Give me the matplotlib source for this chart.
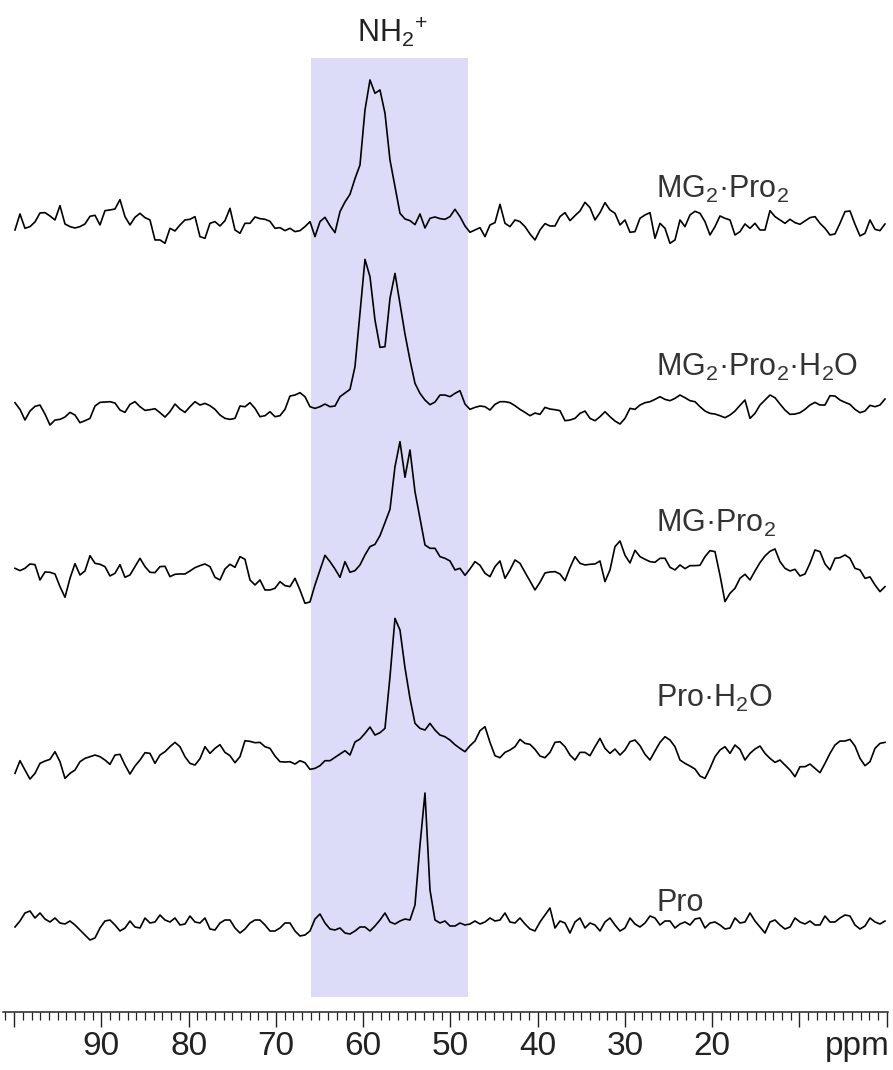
import numpy as np
import matplotlib
matplotlib.use("Agg")
import matplotlib.pyplot as plt
from matplotlib.ticker import FixedLocator

plt.rcParams['font.family'] = ['Liberation Sans', 'DejaVu Sans']
plt.rcParams['mathtext.fontset'] = 'custom'
plt.rcParams['mathtext.rm'] = 'Liberation Sans'
plt.rcParams['mathtext.it'] = 'Liberation Sans:italic'
plt.rcParams['mathtext.bf'] = 'Liberation Sans:bold'
plt.rcParams['mathtext.default'] = 'regular'

# ---------------- data (intensity in arbitrary units, chemical shift in ppm) ----------------
ppm_start_left = 99.897
ppm_start_right = 50.619
ppm_step = 0.573

labels = [r'MG$_2$·Pro$_2$', r'MG$_2$·Pro$_2$·H$_2$O', r'MG·Pro$_2$', r'Pro·H$_2$O', 'Pro']
region_label = r'NH$_2{}^{+}$'
region_ppm = (66.0, 48.0)
tick_values = [90, 80, 70, 60, 50, 40, 30, 20]
axis_unit = 'ppm'

t1_left = [-20, 28, -15, -10, 4, 31, 32, 22, 10, 53,
           -2, -10, -14, -10, -2, 21, 24, -5, 38, 40,
           43, 71, 20, -5, 18, 30, 17, 10, -50, -50,
           -60, -15, -23, -5, 10, 12, 20, -40, -45, 0,
           5, -8, 8, 45, -20, -30, 0, 0, 19, 14,
           12, 6, -15, -13, -22, -15, -25, -22, -10, 5,
           -40, 5, 18, -7, -28, 35, 64, 87, 134, 175,
           340, 430, 390, 400, 330, 190, 110, 30, 13, 8,
           -4, 28, -14, 15, 19, 14]
t1_right = [12, 20, 42, 20, -8, -27, -20, -13, -40, -5,
            2, 57, 0, -10, 10, 5, -10, -32, -50, -20,
            -1, -8, -8, 20, 32, 8, 23, 37, 63, 47,
            10, 32, 62, 40, 30, -5, 10, -27, -25, 15,
            25, 32, -45, 0, -15, -60, -50, 10, -10, 25,
            36, 30, 5, -35, -10, 22, 15, 10, -35, -25,
            -2, -15, 0, -20, -20, 38, 20, 10, 0, 12,
            2, -3, 7, 17, 20, 0, -15, -35, -32, 0,
            35, 37, -3, -38, -30, 10, -18, -22, -2]

t2_left = [12, -8, -40, -13, 1, 5, -22, -55, -40, -38,
           -31, -17, -25, -48, -42, -35, 2, 13, 14, 15,
           11, -10, -17, 7, 15, 0, -11, -9, -6, -18,
           -31, -15, 8, -7, -17, 0, 15, 5, 10, 3,
           -8, -25, -35, -38, -35, 2, 0, 12, -5, -30,
           -27, -15, -30, -27, -8, 32, 35, 42, 30, 0,
           -5, 0, 8, 0, 2, 30, 41, 52, 120, 280,
           442, 390, 260, 178, 180, 325, 400, 310, 218, 140,
           70, 40, 20, 6, 14, 35]
t2_right = [35, 30, 40, 48, 8, -8, -2, 2, 0, -10,
            7, 15, 15, 12, 3, -8, -17, -27, -19, -23,
            -2, -7, -9, -12, -42, -40, -35, -20, -13, -35,
            -42, -30, -15, -30, -43, -52, -35, -5, -8, 5,
            12, 15, 22, 30, 22, 18, 25, 35, 27, 18,
            15, 0, -13, -20, -22, -27, -33, -25, -13, 4,
            20, -35, -20, 5, 20, 35, 27, 8, -10, -23,
            -22, -18, -8, 5, 13, 5, 5, 33, 32, 20,
            13, 7, -8, -18, -13, 4, 0, 5, 23]

t3_left = [0, -7, 0, 13, 11, -35, -11, -12, -17, -55,
           -87, -30, 14, -20, -8, 38, 15, 12, 5, -23,
           -15, 11, -27, -20, 5, 30, 5, -12, -13, 5,
           6, -25, -18, -17, -17, -8, 2, 8, 13, 5,
           -27, -35, -2, 12, 3, 35, 27, -35, -50, -35,
           -65, -65, -60, -40, -52, -55, -30, -65, -105, -101,
           -50, -5, 39, 20, -2, -27, 20, -12, -7, 10,
           40, 65, 72, 98, 137, 177, 305, 380, 273, 355,
           230, 150, 70, 60, 60, 35]
t3_right = [30, 22, -5, 0, -21, -2, 20, 9, -15, -25,
            5, 22, -30, -5, 25, 15, -12, -38, -65, -42,
            -14, -11, -10, -17, -37, 2, 35, 15, 10, 12,
            13, 22, -40, -5, 65, 82, 39, 16, 54, 35,
            27, 20, 18, 30, 30, 3, -5, 10, -1, 8,
            8, 9, 35, 53, 50, -21, -100, -75, -60, -30,
            -18, -35, -8, 17, 37, 51, 58, 20, 0, -8,
            -3, -23, -17, 15, 55, 50, 13, -5, 30, 32,
            40, 30, 0, -5, -30, -26, -50, -70, -55]

t4_left = [-35, 3, -25, -52, -35, -5, 2, 7, 30, 0,
           -50, -35, -25, 0, 10, 15, 20, 15, 5, -8,
           20, 22, -10, -37, -13, 5, 27, 25, -5, 20,
           30, 45, 58, 45, 15, -5, -10, 9, 45, 25,
           40, 51, 28, 18, -3, 15, 63, 61, 57, 58,
           45, 40, 17, 0, -1, 0, -7, 3, -3, -23,
           -20, -12, 3, 3, 13, 23, 33, 20, 59, 68,
           85, 104, 80, 87, 100, 255, 430, 395, 282, 190,
           115, 100, 95, 115, 95, 80]
t4_right = [75, 65, 51, 40, 30, 48, 62, 93, 105, 58,
            18, 12, 28, 35, 45, 67, 55, 52, 37, 17,
            12, 28, 58, 60, 45, 20, 5, 28, 28, 18,
            45, 70, 40, 25, 38, 20, 35, 60, 65, 48,
            22, 5, 32, 58, 75, 65, 45, 5, -5, -13,
            -22, -43, -50, -20, 15, 35, 45, 25, 50, 37,
            5, 25, 38, 47, 25, 10, -2, 5, -10, -25,
            -45, -15, -15, -7, -20, -33, -5, 25, 50, 62,
            62, 67, 47, 10, -12, 0, 40, 55, 58]

t5_all = [-6, 12, 36, 42, 21, 36, 18, 9, 21, 6,
          3, 12, 0, -15, -30, -45, -39, -9, 12, 15,
          0, -18, -9, 12, -6, -9, 21, 6, 9, 30,
          15, 9, 21, 0, 3, 27, 9, 6, 21, -12,
          -15, 6, 15, 15, -9, -24, -12, 6, 15, 15,
          0, -18, -18, -9, 6, 6, -18, -33, -30, -18,
          18, 33, 6, -12, -15, -9, -24, -27, -18, -6,
          -6, -18, -3, 15, 36, 9, 3, 12, 18, 15,
          60, 240, 396, 105, 15, 6, 12, -3, -3, 6,
          0, 3, 12, 3, 9, 21, 12, 15, 36, 9,
          6, 21, 3, -12, -18, 9, 30, 51, -9, 12,
          6, -24, 9, 21, -9, 6, 0, -18, 9, 21,
          0, -18, -9, 21, 3, -6, 6, 27, 21, 0,
          12, 12, -9, 3, 9, 0, 18, 21, -9, 6,
          9, 0, -12, -9, 21, 6, 9, 36, 12, -6,
          -24, 9, 15, 0, -12, -6, 21, 9, 3, 12,
          0, 0, 27, 9, 9, 21, 30, 27, 0, -12,
          -3, 21, 9, 3, 12]

# ---------------- layout / style ----------------
FIG_W, FIG_H = 893, 1070
AXIS_Y = 1012                 # pixel row of the axis line
baselines = [223.3, 406.7, 568.3, 761.7, 925.0]   # pixel row of each trace's zero level
label_rows = [198.3, 376.0, 531.7, 706.7, 911.0]
label_ppm = 26.4
region_label_ppm = 56.6
scale = 1.0 / 3.0             # intensity units -> pixels
axis_font = ['Liberation Sans Narrow', 'Liberation Sans', 'DejaVu Sans']

fig = plt.figure(figsize=(FIG_W / 100, FIG_H / 100), dpi=100)
ax = fig.add_axes([3 / FIG_W, (FIG_H - AXIS_Y) / FIG_H, 885 / FIG_W, AXIS_Y / FIG_H])
ax.set_xlim(101.27, -0.15)
ax.set_ylim(0, AXIS_Y)

# highlighted region
ax.axvspan(region_ppm[0], region_ppm[1], ymin=(AXIS_Y - 997) / AXIS_Y,
           ymax=(AXIS_Y - 58) / AXIS_Y, color='#dddcf8', lw=0, zorder=0)
ax.text(region_label_ppm, AXIS_Y - 41.7, region_label, fontsize=22,
        color='#222222', ha='center', va='baseline')

segments = [(t1_left, t1_right), (t2_left, t2_right), (t3_left, t3_right),
            (t4_left, t4_right)]
for (left, right), base in zip(segments, baselines[:4]):
    xl = ppm_start_left - ppm_step * np.arange(len(left))
    xr = ppm_start_right - ppm_step * np.arange(len(right))
    x = np.concatenate([xl, xr])
    y = np.concatenate([left, right]).astype(float)
    ax.plot(x, (AXIS_Y - base) + y * scale, color='#000000', lw=1.2,
            solid_joinstyle='round', zorder=3)

x5 = ppm_start_left - ppm_step * np.arange(len(t5_all))
ax.plot(x5, (AXIS_Y - baselines[4]) + np.asarray(t5_all, float) * scale,
        color='#000000', lw=1.2, solid_joinstyle='round', zorder=3)

for lab, row in zip(labels, label_rows):
    ax.text(label_ppm, AXIS_Y - row, lab, fontsize=22, color='#333333',
            ha='left', va='baseline')

# axis
for s in ['top', 'left', 'right']:
    ax.spines[s].set_visible(False)
ax.spines['bottom'].set_linewidth(1.1)
ax.spines['bottom'].set_color('#222222')
ax.yaxis.set_visible(False)
major = list(range(0, 101, 10))
ax.xaxis.set_major_locator(FixedLocator(major))
ax.set_xticks(major, [str(v) if v in tick_values else '' for v in major])
ax.xaxis.set_minor_locator(FixedLocator(np.arange(0, 102, 1)))
ax.tick_params(axis='x', which='major', direction='out', length=10.5, width=1.0,
               pad=3.0, labelsize=24, colors='#222222')
ax.tick_params(axis='x', which='minor', direction='out', length=5.5, width=0.9,
               colors='#222222')
for lbl in ax.get_xticklabels():
    lbl.set_family(axis_font)
ax.annotate(axis_unit, xy=(3.4, 0), xycoords=('data', 'axes fraction'),
            xytext=(0, -13.5), textcoords='offset points', ha='center', va='top',
            fontsize=24, family=axis_font, color='#222222', annotation_clip=False)

fig.savefig('out.png', dpi=100)
